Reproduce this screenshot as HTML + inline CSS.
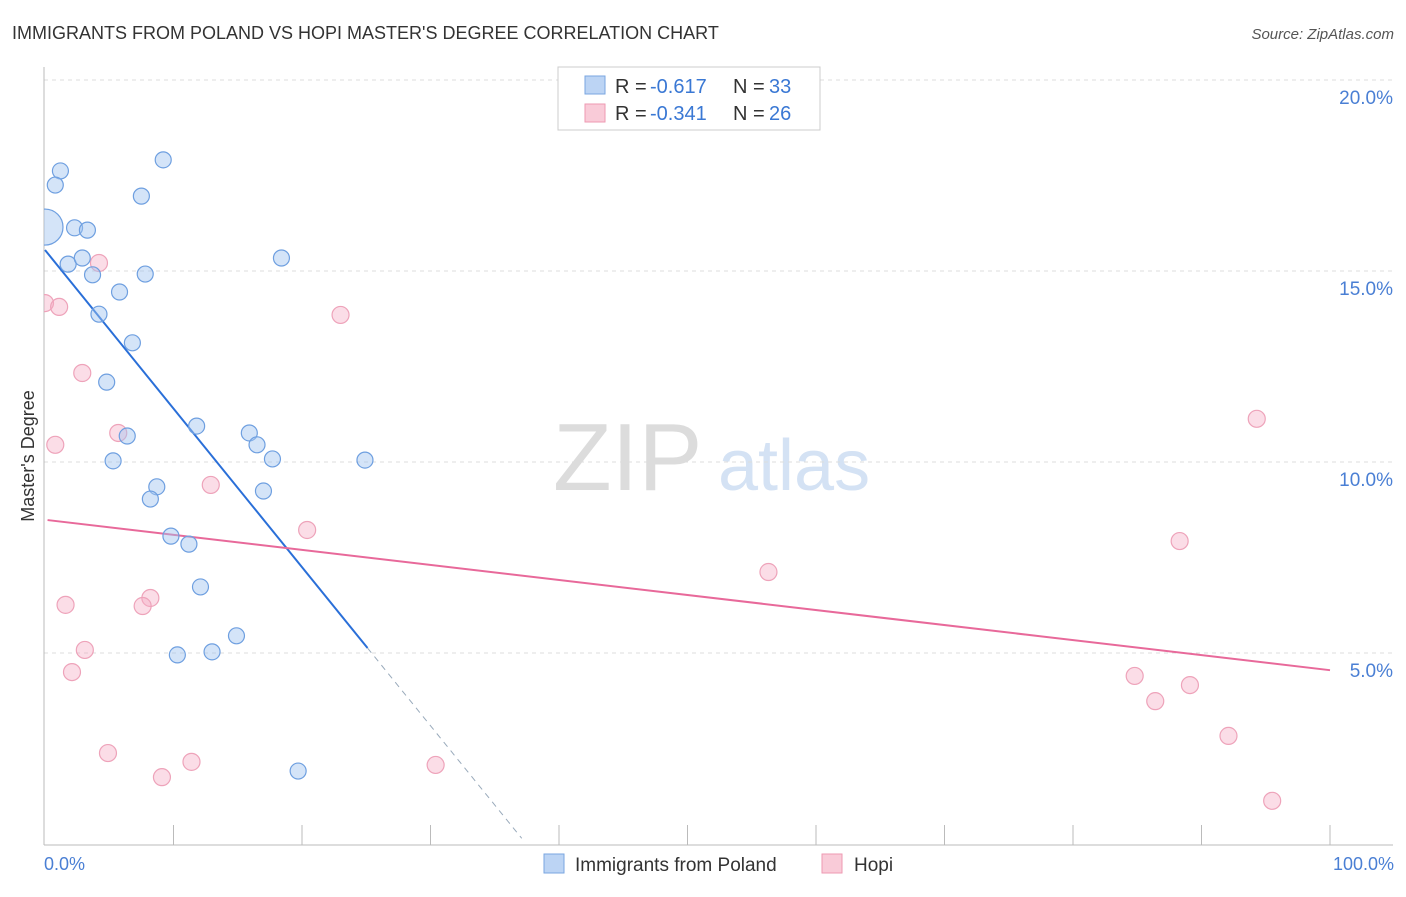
<!DOCTYPE html>
<html><head><meta charset="utf-8">
<style>
body{margin:0;background:#fff;font-family:"Liberation Sans",sans-serif;}
svg text{font-family:"Liberation Sans",sans-serif;}
</style></head>
<body>
<svg width="1406" height="892" xmlns="http://www.w3.org/2000/svg">
<defs><clipPath id="plotclip"><rect x="44" y="60" width="1360" height="786"/></clipPath></defs>
<text x="12" y="39" font-size="18" fill="#333">IMMIGRANTS FROM POLAND VS HOPI MASTER'S DEGREE CORRELATION CHART</text>
<text x="1394" y="39" font-size="15" fill="#555" text-anchor="end" font-style="italic">Source: ZipAtlas.com</text>
<g>
<text x="553" y="490" font-size="96" fill="#dcdcdc" font-family="Liberation Serif,serif">ZIP</text>
<text x="718" y="490" font-size="72" fill="#d4e2f4">atlas</text>
</g>
<g id="grid"></g>
<line x1="44" y1="67" x2="44" y2="845" stroke="#bbb"/>
<line x1="44" y1="845" x2="1393" y2="845" stroke="#bbb"/>
<g id="ticks"></g>
<text transform="translate(34,456) rotate(-90)" font-size="18" fill="#333" text-anchor="middle">Master's Degree</text>
<text x="44" y="870" font-size="18" fill="#4a7fd4">0.0%</text>
<text x="1394" y="870" font-size="18" fill="#4a7fd4" text-anchor="end">100.0%</text>
<g id="lines"></g>
<g id="points" clip-path="url(#plotclip)"></g>
<g>
<rect x="558" y="67" width="262" height="63" fill="#fff" stroke="#ccc"/>
<rect x="585" y="76" width="20" height="18" fill="#bcd4f4" stroke="#7aa6e0"/>
<text x="615" y="93" font-size="20" fill="#333">R = </text>
<text x="650" y="93" font-size="20" fill="#3a78d4">-0.617</text>
<text x="733" y="93" font-size="20" fill="#333">N = </text>
<text x="769" y="93" font-size="20" fill="#3a78d4">33</text>
<rect x="585" y="104" width="20" height="18" fill="#f9cbd8" stroke="#ee9ab2"/>
<text x="615" y="120" font-size="20" fill="#333">R = </text>
<text x="650" y="120" font-size="20" fill="#3a78d4">-0.341</text>
<text x="733" y="120" font-size="20" fill="#333">N = </text>
<text x="769" y="120" font-size="20" fill="#3a78d4">26</text>
</g>
<g>
<rect x="544" y="854" width="20" height="19" fill="#bcd4f4" stroke="#7aa6e0"/>
<text x="575" y="871" font-size="19" fill="#333">Immigrants from Poland</text>
<rect x="822" y="854" width="20" height="19" fill="#f9cbd8" stroke="#ee9ab2"/>
<text x="854" y="871" font-size="19" fill="#333">Hopi</text>
</g>
</svg>
<script>
const yTicks=[5,10,15,20];
const yTickLabels=["5.0%","10.0%","15.0%","20.0%"];
const xTicks=[10,20,30,40,50,60,70,80,90,100];
const blueX=[1.2,0.8,9.2,7.5,0,2.3,3.3,1.8,2.9,3.7,7.8,18.4,5.8,4.2,6.8,4.8,6.4,11.8,15.9,16.5,5.3,17.7,24.9,8.7,8.2,17.0,9.8,11.2,12.1,14.9,10.3,13.0,19.7];
const blueY=[17.62,17.25,17.91,16.96,16.15,16.13,16.07,15.18,15.34,14.90,14.92,15.34,14.45,13.87,13.12,12.09,10.68,10.94,10.76,10.45,10.03,10.08,10.05,9.35,9.03,9.24,8.06,7.85,6.73,5.45,4.95,5.03,1.91];
const blueR=[8,8,8,8,18,8,8,8,8,8,8,8,8,8,8,8,8,8,8,8,8,8,8,8,8,8,8,8,8,8,8,8,8];
const pinkX=[0,1.1,4.2,2.9,0.8,5.7,12.9,23.0,20.4,1.6,8.2,7.6,3.1,2.1,4.9,9.1,11.4,30.4,56.3,88.3,94.3,84.8,86.4,89.1,92.1,95.5];
const pinkY=[14.16,14.06,15.21,12.33,10.45,10.76,9.40,13.85,8.22,6.26,6.44,6.23,5.08,4.50,2.38,1.75,2.15,2.07,7.12,7.93,11.13,4.40,3.74,4.16,2.83,1.13];
const blueTrend=[0,15.55,25.1,5.13,37.1];
const pinkTrend=[0.2,8.48,100,4.55];
const NS='http://www.w3.org/2000/svg';
const X=v=>45+v*12.85;
const Y=v=>844-v*38.2;
function mk(tag,attrs,parent){const e=document.createElementNS(NS,tag);for(const k in attrs)e.setAttribute(k,attrs[k]);document.getElementById(parent).appendChild(e);return e;}
yTicks.forEach((t,i)=>{
 const g=mk('line',{x1:44,x2:1393,y1:Y(t),y2:Y(t),stroke:'#ddd','stroke-dasharray':'4,4'},'grid');
 
 
 const tx=mk('text',{x:1393,y:Y(t)+24,'font-size':19,fill:'#4a7fd4','text-anchor':'end'},'grid');
 tx.textContent=yTickLabels[i];
 
 
});
xTicks.forEach(t=>{
 const l=mk('line',{x1:X(t),x2:X(t),y1:825,y2:845,stroke:'#bbb'},'ticks');
 
 
});
function pts(xs,ys,rs,fill,stroke,name){
 xs.forEach((x,i)=>{
  const c=mk('circle',{cx:X(x),cy:Y(ys[i]),r:rs?rs[i]:8.5,fill:fill,stroke:stroke,'stroke-width':1.2},'points');
  
  
 });
}
pts(pinkX,pinkY,null,'rgba(246,170,195,0.4)','#eea3ba','hopi-point');
pts(blueX,blueY,blueR,'rgba(160,195,240,0.45)','#6e9fe0','poland-point');
const bs=(blueTrend[3]-blueTrend[1])/(blueTrend[2]-blueTrend[0]);
const b1=mk('line',{x1:X(blueTrend[0]),y1:Y(blueTrend[1]),x2:X(blueTrend[2]),y2:Y(blueTrend[3]),stroke:'#2a6fd8','stroke-width':2},'lines');


const b2=mk('line',{x1:X(blueTrend[2]),y1:Y(blueTrend[3]),x2:X(blueTrend[4]),y2:Y(blueTrend[1]+bs*(blueTrend[4]-blueTrend[0])),stroke:'#9ab',
 'stroke-width':1,'stroke-dasharray':'6,5'},'lines');


const p1=mk('line',{x1:X(pinkTrend[0]),y1:Y(pinkTrend[1]),x2:X(pinkTrend[2]),y2:Y(pinkTrend[3]),stroke:'#e8699a','stroke-width':2},'lines');


</script>
</body></html>
